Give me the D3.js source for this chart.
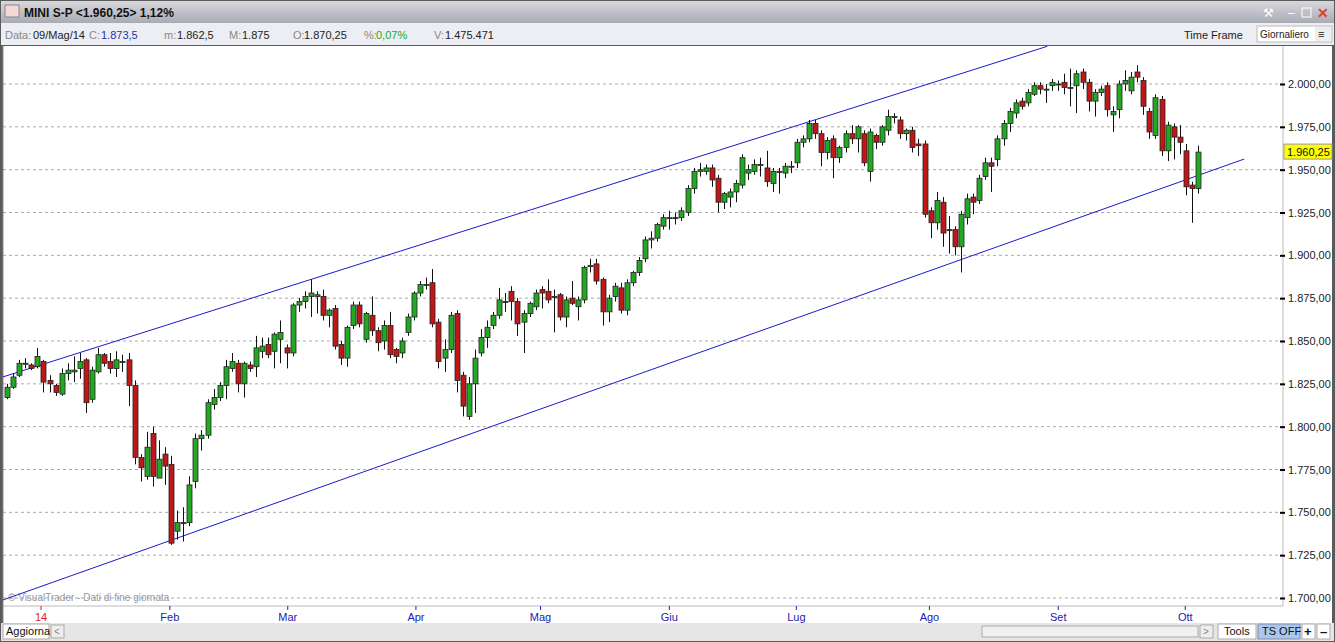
<!DOCTYPE html>
<html><head><meta charset="utf-8">
<script src="https://cdn.jsdelivr.net/npm/d3@7"></script>
<style>body{margin:0;overflow:hidden;background:#fff;font-family:"Liberation Sans",Arial,sans-serif}</style>
</head><body><svg id="c" width="1335" height="642" font-family="Liberation Sans, Arial, sans-serif"></svg>
<script>
// OHLC data (oldest first)
const opens=[1817,1823,1830,1837,1836,1835,1838,1827,1824,1819,1831,1832,1834,1839,1816,1832,1842,1838,1834,1838,1839,1824,1782,1771,1796,1770,1784,1778,1739,1744,1744,1768,1793,1795,1813,1817,
1824,1834,1837,1825,1836,1835,1844,1848,1844,1851,1846,1843,1871,1873,1876,1876,1876,1865,1869,1848,1840,1859,1871,1851,1865,1856,1850,1859,1845,1843,1855,1864,1878,1883,
1884,1861,1840,1845,1866,1830,1806,1825,1843,1852,1859,1865,1873,1879,1873,1861,1866,1870,1880,1879,1876,1877,1864,1875,1870,1874,1894,1895,1886,1867,1876,1881,1868,1884,1890,1898,
1909,1910,1917,1922,1922,1922,1925,1939,1949,1949,1951,1945,1931,1934,1937,1941,1948,1949,1953,1951,1942,1949,1948,1952,1954,1966,1968,1977,1971,1960,1968,1957,1963,1971,1968,1971,1949,1970,1966,1973,1981,1979,1971,1973,1965,
1965,1926,1919,1931,1915,1915,1905,1922,1934,1932,1946,1954,1956,1968,1977,1983,1990,1989,1994,1999,1997,1999,2000,2001,1998,1999,2007,2001,1990,1995,
1999,1982,1985,2000,1996,2007,2002,1984,1970,1991,1961,1975,1969,1961,1941,1939];
const highs=[1825,1831,1839,1840,1837,1846,1839,1830,1825,1834,1837,1841,1843,1840,1835,1846,1843,1843,1844,1842,1843,1827,1784,1797,1800,1792,1788,1783,1751,1753,1771,1796,1798,1816,1822,1826,
1839,1843,1839,1838,1838,1853,1852,1852,1855,1862,1848,1872,1875,1879,1886,1879,1880,1869,1871,1850,1859,1873,1873,1867,1876,1858,1862,1867,1846,1852,1866,1879,1885,1887,
1892,1863,1851,1867,1868,1832,1829,1845,1857,1862,1867,1881,1878,1882,1875,1868,1873,1880,1882,1886,1880,1878,1876,1885,1876,1894,1898,1898,1887,1877,1884,1884,1886,1891,1899,1911,
1914,1919,1924,1926,1925,1928,1941,1951,1954,1953,1953,1947,1937,1939,1944,1959,1953,1956,1957,1961,1951,1951,1954,1955,1968,1970,1979,1979,1973,1969,1970,1964,1973,1976,1976,1973,1974,1971,1976,1985,1983,1981,1974,1975,1968,
1967,1928,1937,1934,1923,1917,1926,1936,1936,1947,1957,1957,1970,1979,1986,1991,1992,1997,2001,2001,2000,2003,2002,2006,2009,2008,2009,2003,1997,1999,
2001,1987,2002,2008,2007,2011,2004,1986,1994,1993,1978,1977,1976,1965,1943,1964];
const lows=[1816,1822,1829,1834,1833,1834,1820,1820,1818,1818,1827,1826,1828,1808,1814,1831,1835,1831,1829,1832,1812,1778,1768,1769,1765,1775,1766,1731,1734,1733,1742,1764,1786,1793,1810,1815,
1816,1832,1820,1817,1832,1829,1840,1840,1834,1837,1834,1841,1867,1869,1864,1866,1862,1858,1845,1836,1835,1857,1858,1849,1853,1844,1845,1840,1837,1840,1853,1862,1876,1880,
1858,1834,1832,1843,1820,1806,1804,1808,1841,1846,1857,1863,1867,1862,1853,1843,1864,1868,1869,1872,1855,1862,1858,1871,1862,1872,1890,1883,1859,1861,1873,1866,1865,1882,1888,1896,
1904,1908,1915,1915,1918,1920,1923,1936,1946,1947,1940,1925,1927,1928,1931,1939,1944,1947,1946,1940,1937,1936,1945,1948,1951,1963,1966,1968,1952,1956,1945,1954,1960,1965,1960,1952,1943,1962,1964,1970,1977,1968,1967,1960,1958,
1922,1910,1915,1905,1901,1900,1890,1918,1924,1930,1944,1937,1952,1964,1972,1980,1985,1987,1993,1994,1989,1996,1996,1994,1987,1983,1997,1984,1981,1993,
1981,1972,1980,1996,1994,2001,1982,1968,1968,1958,1955,1956,1959,1935,1919,1936];
const closes=[1823,1829,1837,1837,1834,1841,1826,1825,1820,1831,1833,1833,1838,1814,1833,1842,1837,1834,1839,1838,1824,1782,1776,1788,1771,1781,1777,1732,1744,1744,1766,1793,1795,1814,1817,1824,
1835,1838,1825,1837,1834,1846,1847,1842,1854,1855,1843,1871,1873,1876,1878,1877,1865,1868,1847,1840,1858,1871,1860,1866,1856,1849,1859,1842,1841,1850,1864,1878,1883,1883,
1860,1838,1845,1865,1827,1812,1825,1840,1852,1858,1865,1874,1873,1873,1860,1866,1872,1878,1878,1874,1876,1864,1874,1872,1874,1893,1894,1885,1867,1875,1882,1868,1884,1890,1897,1909,
1910,1918,1922,1922,1922,1926,1939,1949,1950,1951,1944,1931,1936,1937,1942,1957,1950,1953,1953,1943,1949,1949,1952,1952,1966,1968,1977,1971,1960,1967,1957,1963,1971,1968,1975,1954,1972,1966,1975,1981,1981,1971,1973,1963,1964,
1924,1919,1932,1913,1915,1905,1924,1933,1931,1945,1954,1952,1968,1977,1984,1989,1987,1995,1999,1997,1997,2001,2000,1998,1998,2006,2001,1990,1995,1997,
1985,1984,2000,2002,2004,2004,1987,1972,1992,1961,1976,1969,1966,1940,1939,1960.25];
const yTicks=[1700,1725,1750,1775,1800,1825,1850,1875,1900,1925,1950,1975,2000];
const monthLabels=["14","Feb","Mar","Apr","Mag","Giu","Lug","Ago","Set","Ott"];
const monthIdx=[5.6,26.8,46.2,67.3,87.8,109,129.9,151.8,173,193.9];
const upperLine=[[-0.7,1829],[171.2,2022]];
const lowerLine=[[-0.7,1698.8],[203.6,1956.2]];

const svg=d3.select("#c");
const L=3,R=1283,T=46,B=606;
const n=closes.length;
const x=d3.scaleLinear().domain([0,n-1]).range([7,1198]);
const y=d3.scaleLinear().domain([1700,2000]).range([598,84]);
const FS=11;

const g0=svg.append("defs").append("linearGradient").attr("id","tb").attr("x1",0).attr("y1",0).attr("x2",0).attr("y2",1);
g0.append("stop").attr("offset","0").attr("stop-color","#d8d8dc");
g0.append("stop").attr("offset","1").attr("stop-color","#a9abb4");
svg.append("rect").attr("width",1335).attr("height",642).attr("fill","#5a5a5a");
svg.append("rect").attr("x",1).attr("y",1).attr("width",1333).attr("height",22).attr("fill","url(#tb)");
svg.append("rect").attr("x",1).attr("y",23).attr("width",1333).attr("height",22).attr("fill","#eceef3");
svg.append("rect").attr("x",L).attr("y",T).attr("width",1329).attr("height",B-T+17).attr("fill","#fff");
svg.append("rect").attr("x",1).attr("y",623).attr("width",1333).attr("height",18).attr("fill","#e6e6e6");

svg.append("rect").attr("x",5).attr("y",5).attr("width",14).attr("height",12).attr("fill","#f4d7d7").attr("stroke","#888");
svg.append("text").attr("x",24).attr("y",17).attr("font-size",12).attr("font-weight","bold").attr("fill","#111").text("MINI S-P <1.960,25> 1,12%");
const info=[[5,"Data:","#888"],[33,"09/Mag/14","#222"],[89,"C:","#888"],[101,"1.873,5","#2233aa"],[164,"m:","#888"],[177,"1.862,5","#222"],[229,"M:","#888"],[242,"1.875","#222"],[293,"O:","#888"],[304,"1.870,25","#222"],[364,"%:","#888"],[376,"0,07%","#22aa22"],[434,"V:","#888"],[445,"1.475.471","#222"]];
info.forEach(d=>svg.append("text").attr("x",d[0]).attr("y",39).attr("font-size",FS).attr("fill",d[2]).text(d[1]));
svg.append("text").attr("x",1184).attr("y",39).attr("font-size",FS).attr("fill","#222").text("Time Frame");
svg.append("rect").attr("x",1257).attr("y",26).attr("width",75).attr("height",16).attr("fill","#fff").attr("stroke","#bbb");
svg.append("text").attr("x",1260).attr("y",38).attr("font-size",10).attr("fill","#222").text("Giornaliero");
svg.append("rect").attr("x",1315).attr("y",27).attr("width",16).attr("height",14).attr("fill","#eee");
svg.append("text").attr("x",1318).attr("y",38).attr("font-size",11).attr("fill","#222").text("≡");
svg.append("text").attr("x",1263).attr("y",17).attr("font-size",12).attr("fill","#fff").text("⚒");
svg.append("text").attr("x",1288).attr("y",17).attr("font-size",12).attr("fill","#fff").text("–");
svg.append("rect").attr("x",1302).attr("y",8).attr("width",9).attr("height",9).attr("fill","none").attr("stroke","#fff");
svg.append("text").attr("x",1317).attr("y",18).attr("font-size",14).attr("font-weight","bold").attr("fill","#e04020").text("✕");

svg.append("g").selectAll("line").data(yTicks).join("line")
 .attr("x1",L).attr("x2",R).attr("y1",d=>y(d)).attr("y2",d=>y(d))
 .attr("stroke","#aaa").attr("stroke-dasharray","3,3");
svg.append("line").attr("x1",R).attr("x2",R).attr("y1",T).attr("y2",B).attr("stroke","#bbb");
svg.append("line").attr("x1",L).attr("x2",R).attr("y1",B).attr("y2",B).attr("stroke","#bbb");
svg.append("line").attr("x1",L).attr("x2",L).attr("y1",T).attr("y2",B+17).attr("stroke","#888");

const ya=d3.axisRight(y).tickValues(yTicks).tickSize(5)
 .tickFormat(d=>d3.format(",.2f")(d).replace(/,/g,"#").replace(".",",").replace(/#/g,"."));
const yg=svg.append("g").attr("transform",`translate(${R-3},0)`).call(ya);
yg.select(".domain").remove();
yg.selectAll("line").attr("stroke","#000").attr("stroke-width",2);
yg.selectAll("text").attr("font-size",FS).attr("font-family","Liberation Sans, Arial, sans-serif").attr("fill","#222").attr("x",8);

const xa=svg.append("g");
monthLabels.forEach((m,i)=>{
  const xx=x(monthIdx[i]);
  xa.append("line").attr("x1",xx).attr("x2",xx).attr("y1",B).attr("y2",B+4).attr("stroke",i?"#2222aa":"#cc2222");
  xa.append("text").attr("x",xx).attr("y",B+15).attr("text-anchor","middle").attr("font-size",FS).attr("fill",i?"#2222aa":"#dd2222").text(m);
});

svg.append("text").attr("x",8).attr("y",601).attr("font-size",10).attr("fill","#999").text("© VisualTrader - Dati di fine giornata");

svg.append("clipPath").attr("id","pc").append("rect").attr("x",L).attr("y",T).attr("width",R-L).attr("height",B-T);
const pg=svg.append("g").attr("clip-path","url(#pc)");
const line=d3.line().x(d=>x(d[0])).y(d=>y(d[1]));
[upperLine,lowerLine].forEach(l=>pg.append("path").attr("d",line(l)).attr("stroke","#1a1acc").attr("fill","none").attr("stroke-width",1));

const idx=d3.range(n);
pg.append("g").selectAll("line").data(idx).join("line")
 .attr("x1",i=>Math.round(x(i))+0.5).attr("x2",i=>Math.round(x(i))+0.5)
 .attr("y1",i=>y(highs[i])).attr("y2",i=>y(lows[i])).attr("stroke","#111");
pg.append("g").selectAll("rect").data(idx).join("rect")
 .attr("x",i=>Math.round(x(i))-2).attr("width",5)
 .attr("y",i=>y(Math.max(opens[i],closes[i])))
 .attr("height",i=>Math.max(1,Math.abs(y(opens[i])-y(closes[i]))))
 .attr("fill",i=>closes[i]>=opens[i]?"#22a822":"#c01818")
 .attr("stroke","#222").attr("stroke-width",0.8);

const lp=closes[n-1];
svg.append("rect").attr("x",R+1).attr("y",y(lp)-8).attr("width",48).attr("height",15).attr("fill","#ffff00").attr("stroke","#999");
svg.append("text").attr("x",R+4).attr("y",y(lp)+4).attr("font-size",FS).attr("fill","#111").text("1.960,25");

svg.append("rect").attr("x",3).attr("y",624).attr("width",46).attr("height",15).attr("fill","#fff").attr("stroke","#aaa");
svg.append("text").attr("x",6).attr("y",635).attr("font-size",FS).attr("fill","#111").text("Aggiorna");
svg.append("rect").attr("x",51).attr("y",625).attr("width",13).attr("height",13).attr("fill","#eee").attr("stroke","#aaa");
svg.append("text").attr("x",54).attr("y",635).attr("font-size",10).attr("fill","#888").text("<");
svg.append("rect").attr("x",982).attr("y",626).attr("width",216).attr("height",11).attr("fill","#f0f0f0").attr("stroke","#aaa");
svg.append("rect").attr("x",1200).attr("y",625).attr("width",13).attr("height",13).attr("fill","#eee").attr("stroke","#aaa");
svg.append("text").attr("x",1203).attr("y",635).attr("font-size",10).attr("fill","#888").text(">");
svg.append("rect").attr("x",1218).attr("y",624).attr("width",38).attr("height",15).attr("fill","#fff").attr("stroke","#aaa");
svg.append("text").attr("x",1224).attr("y",635).attr("font-size",FS).attr("fill","#111").text("Tools");
svg.append("rect").attr("x",1258).attr("y",624).attr("width",42).attr("height",15).attr("fill","#a8c8f0").attr("stroke","#88a");
svg.append("text").attr("x",1262).attr("y",635).attr("font-size",FS).attr("fill","#111").text("TS OFF");
svg.append("rect").attr("x",1302).attr("y",624).attr("width",13).attr("height",15).attr("fill","#fff").attr("stroke","#aaa");
svg.append("text").attr("x",1304).attr("y",636).attr("font-size",13).attr("font-weight","bold").attr("fill","#111").text("+");
svg.append("rect").attr("x",1317).attr("y",624).attr("width",13).attr("height",15).attr("fill","#fff").attr("stroke","#aaa");
svg.append("text").attr("x",1320).attr("y",636).attr("font-size",13).attr("font-weight","bold").attr("fill","#111").text("–");
</script></body></html>
